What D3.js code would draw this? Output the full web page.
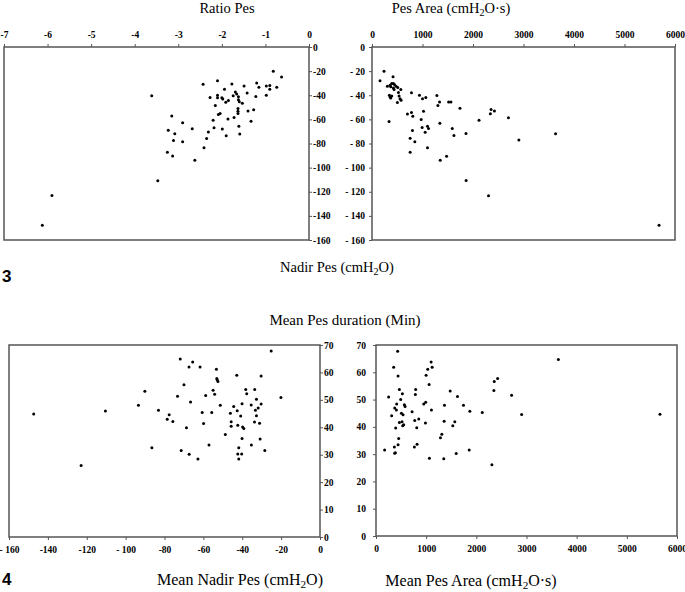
<!DOCTYPE html>
<html>
<head>
<meta charset="utf-8">
<script src="https://cdn.jsdelivr.net/npm/d3@7"></script>
<style>
body{margin:0;background:#fff;}
text{font-family:"Liberation Serif","Times New Roman",serif;fill:#000;}
.tick text{font-weight:bold;font-size:9.5px;}
.tick line{stroke:#555;}
.domain{display:none;}
</style>
</head>
<body>
<script>
//SVG VARIABLES
var width=685;
var height=592;
var svg=d3.select("body").append("svg")
	.attr("width",width)
	.attr("height",height);

//DATA - panel 3 left: Ratio Pes vs Nadir Pes
var ratioPes=[-0.82,-0.63,-2.43,-2.10,-1.77,-1.49,-1.20,-1.15,-0.98,-0.90,-0.90,-0.74,-0.98,-1.22,-1.42,-1.94,
	-1.69,-1.74,-1.66,-1.62,-2.27,-2.10,-2.10,-2.00,-1.98,-1.91,-1.85,-1.62,-1.60,-1.53,-2.15,-1.63,
	-1.63,-1.63,-1.40,-1.27,-2.04,-2.08,-3.15,-2.90,-2.20,-1.86,-1.72,-1.33,-2.68,-3.23,-3.08,-2.18,
	-1.99,-1.61,-1.59,-1.90,-2.31,-2.35,-3.11,-2.90,-2.41,-3.25,-3.13,-2.62,-3.61,-3.47,-5.90,-6.12];
var nadirPesA=[-20.1,-24.8,-30.9,-27.9,-30.7,-32.3,-29.8,-33.4,-32.3,-32.0,-35.1,-33.4,-40.1,-41.0,-38.2,-35.1,
	-37.4,-40.4,-39.0,-41.3,-41.8,-39.9,-42.1,-42.1,-43.2,-45.7,-44.3,-43.8,-45.4,-46.6,-48.5,-51.0,
	-53.2,-55.2,-53.0,-52.1,-55.2,-56.0,-57.1,-62.7,-60.8,-59.7,-58.5,-61.6,-67.7,-69.1,-71.9,-66.9,
	-68.0,-65.8,-72.2,-73.6,-70.5,-75.8,-77.5,-78.6,-83.6,-87.2,-90.3,-93.9,-40.4,-110.9,-123.2,-147.7];

//DATA - panel 3 right: Pes Area vs Nadir Pes
var pesArea=[238,159,417,304,358,391,424,444,371,477,424,510,570,437,344,358,371,391,523,536,556,576,503,
	782,940,1000,1066,1285,1305,1338,1517,1563,1742,2358,2344,2424,2702,2119,702,782,808,1020,974,338,
	993,1099,1119,1053,1344,1589,1623,1861,801,755,848,1099,755,1477,1351,2908,3635,1864,2307,5684];
var nadirPesB=[-20,-28,-24.7,-32.5,-31.7,-30.3,-30.3,-31,-33,-32.5,-33.9,-33.6,-35.3,-35.3,-40,-41.4,-42.2,-40.6,-37.8,-40.6,-42.8,-44.2,-46.1,
	-38,-40,-42.8,-41.9,-40.3,-48.6,-45.6,-45.6,-45.6,-50.8,-51.9,-55.3,-53,-58.6,-60.8,-55.6,-54.2,-57.5,-53.3,-60,-61.7,
	-66.7,-65.6,-67.5,-70.6,-63.3,-67.5,-73.3,-71.7,-69.2,-75.6,-78.6,-83.6,-87.2,-90.6,-93.9,-77.2,-71.9,-110.6,-123.3,-147.8];

//DATA - panel 4 left: Mean Nadir Pes vs Mean Pes duration
var meanNadir=[-25.1,-71.9,-65.5,-67.4,-61.7,-53.3,-42.8,-30.3,-53.1,-52.9,-52.5,-70,-38.2,-33.6,-37.7,-55,-54.2,
	-58.8,-73.3,-90.1,-20.1,-32.7,-30.3,-31.8,-33.2,-35.4,-40.1,-44.4,-42.6,-46.1,-40.8,-32.7,-51.3,-66.6,
	-93.4,-83.1,-77.6,-78.6,-75.7,-60.6,-55.7,-59.9,-68.7,-45.7,-45.7,-42.3,-39.8,-39.2,-33.7,-31.1,-48.7,
	-40.1,-30.8,-35.3,-57.1,-86.5,-71.4,-28.4,-67.3,-62.8,-41.8,-42.3,-40.3,-41.8,-147.3,-110.4,-122.9];
var meanDurA=[67.8,64.9,63.8,62,62,61.2,59,58.7,57.8,57.3,56.7,55.5,53.8,53.8,52.2,53.5,52,
	51.6,51.3,53.1,50.9,50.2,48.5,47,46.2,48.1,48.6,47.6,46,45.1,44.1,44.2,48,49.2,
	48,46.2,44.6,42.9,42.1,45.4,45.4,41.4,39.8,42,40.4,40.7,40.1,39.6,41.9,41.5,37.4,
	35.9,35.7,33.5,33.5,32.5,31.5,31.5,30.2,28.4,32.5,30.3,30.3,28.4,44.8,45.9,26.1];

//DATA - panel 4 right: Mean Pes Area vs Mean Pes duration
var meanArea=[432,352,440,1099,1031,1119,999,1059,2424,2357,2350,2703,2903,466,526,252,492,791,785,1479,1624,1744,
	1871,2118,1365,1105,952,991,719,412,372,406,566,579,506,539,312,466,519,532,552,392,772,852,812,985,1358,
	1571,1531,1312,1285,452,440,366,819,765,172,386,372,1065,1351,1598,1858,2310,3636,5660];
var meanDurB=[67.7,61.8,58.6,63.8,61.1,61.8,58.9,55.5,57.7,56.6,53.3,51.6,44.5,53.7,52.1,50.9,50,53.7,51.9,53.1,51.1,47.9,
	45.7,45.3,47.9,46.2,48.4,49,45.5,48.4,46.9,46.2,48.1,47.5,45,44.4,44.1,41.6,41.9,40.4,40.8,39.6,42.3,42.9,39.7,41.4,42.1,
	41.9,40.4,37.3,36,35.7,33.4,32.6,33.6,32.6,31.5,30.5,30.3,28.5,28.3,30.2,31.5,26.1,64.7,44.6];

//TICK VALUES
var ratioTicks=[-7,-6,-5,-4,-3,-2,-1,0];
var nadirTicks=[0,-20,-40,-60,-80,-100,-120,-140,-160];
var areaTicks=[0,1000,2000,3000,4000,5000,6000];
var meanNadirTicks=[-160,-140,-120,-100,-80,-60,-40,-20,0];
var durTicks=[0,10,20,30,40,50,60,70];

function minus(d){return d<0?"-"+(-d):""+d;}
function minusSpaced(d){return d<0?"- "+(-d):""+d;}
function meanNadirFmt(d){return (d==-160||d==-100)?"- "+(-d):minus(d);}

//draws one boxed scatter panel
function panel(p){
	var g=svg.append("g");
	var x=d3.scaleLinear().domain(p.xdom).range([p.x0,p.x1]);
	var y=d3.scaleLinear().domain(p.ydom).range([p.y1,p.y0]);

	var xa=(p.xside=="top"?d3.axisTop(x):d3.axisBottom(x))
		.tickValues(p.xticks).tickFormat(p.xfmt).tickSize(3).tickSizeOuter(0).tickPadding(6);
	g.append("g").attr("transform","translate(0,"+(p.xside=="top"?p.y0:p.y1)+")").call(xa);

	var ya=(p.yside=="right"?d3.axisRight(y):d3.axisLeft(y))
		.tickValues(p.yticks).tickFormat(p.yfmt).tickSize(3).tickSizeOuter(0).tickPadding(p.ypad);
	g.append("g").attr("transform","translate("+(p.yside=="right"?p.x1:p.x0)+",0)").call(ya);

	g.append("rect")
		.attr("x",p.x0).attr("y",p.y0)
		.attr("width",p.x1-p.x0).attr("height",p.y1-p.y0)
		.attr("fill","none").attr("stroke","#555").attr("stroke-width",1.5);

	g.selectAll("circle").data(p.xs)
		.enter().append("circle")
		.attr("cx",function(d){return x(d);})
		.attr("cy",function(d,i){return y(p.ys[i]);})
		.attr("r",1.5)
		.attr("fill","#000");
}

panel({x0:4,x1:309,y0:47,y1:240,xdom:[-7,0],ydom:[-160,0],xside:"top",yside:"right",ypad:1,
	xticks:ratioTicks,yticks:nadirTicks,xfmt:minus,yfmt:minus,xs:ratioPes,ys:nadirPesA});
panel({x0:372,x1:675,y0:47,y1:240,xdom:[0,6000],ydom:[-160,0],xside:"top",yside:"left",ypad:4,
	xticks:areaTicks,yticks:nadirTicks,xfmt:d3.format("d"),yfmt:minusSpaced,xs:pesArea,ys:nadirPesB});
panel({x0:9,x1:320,y0:345,y1:537,xdom:[-160,0],ydom:[0,70],xside:"bottom",yside:"right",ypad:1,
	xticks:meanNadirTicks,yticks:durTicks,xfmt:meanNadirFmt,yfmt:d3.format("d"),xs:meanNadir,ys:meanDurA});
panel({x0:376,x1:677,y0:345,y1:536,xdom:[0,6000],ydom:[0,70],xside:"bottom",yside:"left",ypad:7,
	xticks:areaTicks,yticks:durTicks,xfmt:d3.format("d"),yfmt:d3.format("d"),xs:meanArea,ys:meanDurB});

//LABELS - [text, subscript, text]
function label(x,y,size,parts){
	var t=svg.append("text").attr("x",x).attr("y",y).attr("text-anchor","middle").style("font-size",size+"px");
	t.append("tspan").text(parts[0]);
	if(parts.length>1){
		t.append("tspan").attr("dy",3).style("font-size",(size*0.7)+"px").text(parts[1]);
		t.append("tspan").attr("dy",-3).text(parts[2]);
	}
}
label(227,13,14.5,["Ratio Pes"]);
label(451,13,14.5,["Pes Area (cmH","2","O\u00b7s)"]);
label(337,272,14.5,["Nadir Pes (cmH","2","O)"]);
label(345,325,15,["Mean Pes duration (Min)"]);
label(240,585,16,["Mean Nadir Pes (cmH","2","O)"]);
label(471,586,16,["Mean Pes Area (cmH","2","O\u00b7s)"]);

svg.append("text").attr("x",2).attr("y",282).text("3")
	.style("font-family","Liberation Sans, Arial, sans-serif").style("font-weight","bold").style("font-size","17px");
svg.append("text").attr("x",2).attr("y",585).text("4")
	.style("font-family","Liberation Sans, Arial, sans-serif").style("font-weight","bold").style("font-size","17px");
</script>
</body>
</html>
